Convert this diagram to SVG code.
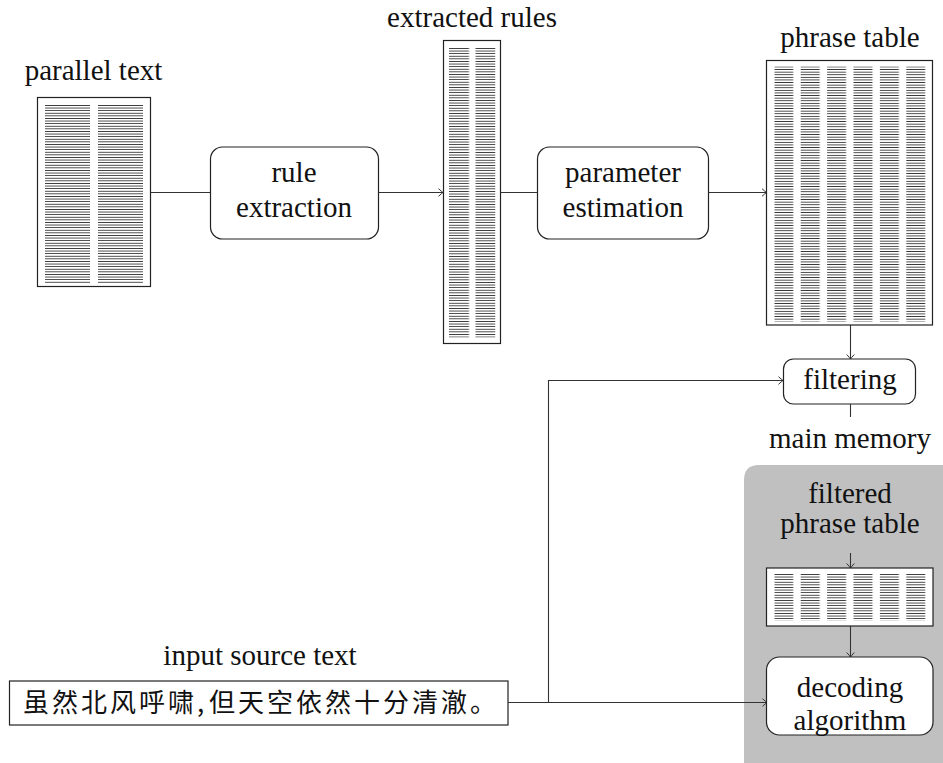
<svg xmlns="http://www.w3.org/2000/svg" width="943" height="763" viewBox="0 0 943 763">
<style>
.t{font-family:"Liberation Serif","Times New Roman",serif;font-size:29px;fill:#111;text-anchor:middle}
.cjk{font-family:"Noto Sans CJK SC","Noto Sans CJK JP",sans-serif;font-size:26px;fill:#111;letter-spacing:3px}
.box{fill:#fff;stroke:#222;stroke-width:1.2}
.conn{fill:none;stroke:#333;stroke-width:1.1}
</style>
<defs>
<marker id="arr" markerUnits="userSpaceOnUse" markerWidth="12" markerHeight="12" viewBox="-6 -6 12 12" refX="0" refY="0" orient="auto">
<path d="M-4.5,-3.8 Q-1.2,-0.8 0,0 Q-1.2,0.8 -4.5,3.8" fill="none" stroke="#333" stroke-width="1"/>
</marker>
<pattern id="pPar" patternUnits="userSpaceOnUse" x="45" y="105" width="53" height="2.6"><rect x="0" y="0" width="45" height="0.75" fill="#111"/></pattern>
<pattern id="pExt" patternUnits="userSpaceOnUse" x="449" y="48" width="26.5" height="2.6"><rect x="0" y="0" width="20" height="0.75" fill="#111"/></pattern>
<pattern id="pPhr" patternUnits="userSpaceOnUse" x="774.3" y="66.5" width="26.4" height="2.6"><rect x="0" y="0" width="19" height="0.75" fill="#111"/></pattern>
<pattern id="pFil" patternUnits="userSpaceOnUse" x="774.3" y="574" width="26.4" height="2.6"><rect x="0" y="0" width="19" height="0.75" fill="#111"/></pattern>
</defs>

<g id="main-memory">
<path d="M759,465 H943 V763 H744 V480 Q744,465 759,465 Z" fill="#c0c0c0"/>
<text class="t" x="850" y="448">main memory</text>
</g>

<g id="connectors">
<path class="conn" d="M150.5,192.5 H210"/>
<path class="conn" d="M378.5,192.5 H443" marker-end="url(#arr)"/>
<path class="conn" d="M500.5,192.5 H537"/>
<path class="conn" d="M708.5,192.5 H766.5" marker-end="url(#arr)"/>
<path class="conn" d="M850.5,325 V359" marker-end="url(#arr)"/>
<path class="conn" d="M850.5,404 V417"/>
<path class="conn" d="M850.5,553 V568" marker-end="url(#arr)"/>
<path class="conn" d="M850.5,626 V657" marker-end="url(#arr)"/>
<path class="conn" d="M508,702.5 H767" marker-end="url(#arr)"/>
<path class="conn" d="M548.5,702.5 V380.5 H783" marker-end="url(#arr)"/>
</g>

<g id="parallel-text">
<text class="t" x="93.5" y="80">parallel text</text>
<rect class="box" x="37.5" y="97.5" width="113" height="189"/>
<rect x="45" y="105" width="98" height="178.5" fill="url(#pPar)"/>
</g>

<g id="rule-extraction">
<rect class="box" x="210.5" y="147" width="168" height="92" rx="12"/>
<text class="t" x="294" y="182">rule</text>
<text class="t" x="294" y="217">extraction</text>
</g>

<g id="extracted-rules">
<text class="t" x="472" y="27">extracted rules</text>
<rect class="box" x="443.5" y="40.5" width="57" height="303"/>
<rect x="449" y="48" width="46.5" height="289.5" fill="url(#pExt)"/>
</g>

<g id="parameter-estimation">
<rect class="box" x="537.5" y="147" width="171" height="92" rx="12"/>
<text class="t" x="623" y="182">parameter</text>
<text class="t" x="623" y="217">estimation</text>
</g>

<g id="phrase-table">
<text class="t" x="850" y="47">phrase table</text>
<rect class="box" x="766.5" y="60.5" width="166" height="264.5"/>
<rect x="774.3" y="66.5" width="151.5" height="255" fill="url(#pPhr)"/>
</g>

<g id="filtering">
<rect class="box" x="783.5" y="359" width="132" height="45" rx="10"/>
<text class="t" x="850" y="389">filtering</text>
</g>

<g id="filtered-phrase-table">
<text class="t" x="850" y="503">filtered</text>
<text class="t" x="850" y="533">phrase table</text>
<rect class="box" x="766.5" y="568" width="166.5" height="58"/>
<rect x="774.3" y="574" width="151.5" height="47" fill="url(#pFil)"/>
</g>

<g id="decoding-algorithm">
<rect class="box" x="766.5" y="657" width="166.5" height="78" rx="13"/>
<text class="t" x="850" y="697">decoding</text>
<text class="t" x="850" y="730">algorithm</text>
</g>

<g id="input-source-text">
<text class="t" x="260" y="665">input source text</text>
<rect class="box" x="9.5" y="681" width="498.5" height="44"/>
<text class="cjk" x="23" y="712">虽然北风呼啸,<tspan x="209">但天空依然十分清澈。</tspan></text>
</g>
</svg>
